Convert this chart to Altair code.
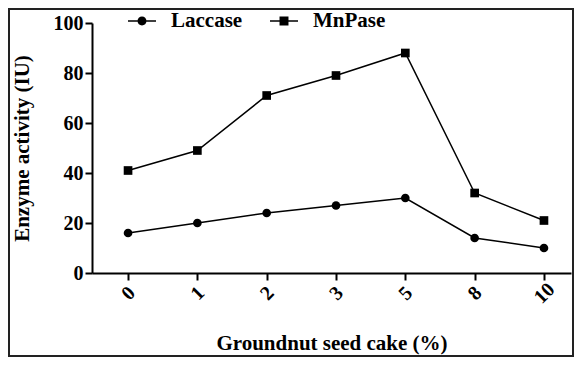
import altair as alt
import pandas as pd

categories = ["0", "1", "2", "3", "5", "8", "10"]
laccase = [16, 20, 24, 27, 30, 14, 10]
mnpase = [41, 49, 71, 79, 88, 32, 21]
series_names = ["Laccase", "MnPase"]

rows = []
for i, c in enumerate(categories):
    rows.append({"idx": i, "cat": c, "series": "Laccase", "value": laccase[i]})
    rows.append({"idx": i, "cat": c, "series": "MnPase", "value": mnpase[i]})
df = pd.DataFrame(rows)

FONT = "Liberation Serif"
W, H = 479, 250
PAD = {"left": 84, "top": 15, "right": 3, "bottom": 84}

label_expr = "[" + ",".join("'%s'" % c for c in categories) + "][round(datum.value)]"

x_enc = alt.X(
    "idx:Q",
    scale=alt.Scale(domain=[-0.52, 6.39], nice=False, zero=False),
    axis=alt.Axis(
        title="Groundnut seed cake (%)",
        values=list(range(len(categories))),
        labelExpr=label_expr,
        labelAngle=-45,
        labelAlign="center",
        labelBaseline="middle",
        labelPadding=13,
        titlePadding=25,
    ),
)
y_enc = alt.Y(
    "value:Q",
    scale=alt.Scale(domain=[0, 100], nice=False),
    axis=alt.Axis(title="Enzyme activity (IU)", values=[0, 20, 40, 60, 80, 100],
                  titlePadding=21, labelPadding=2),
)

bar = "M-1,-0.055H1V0.055H-1Z"
circle_path = bar + "M0.32,0A0.32,0.32 0 1,1 -0.32,0A0.32,0.32 0 1,1 0.32,0Z"
square_path = bar + "M-0.32,-0.32H0.32V0.32H-0.32Z"

lines = alt.Chart(df).mark_line(color="black", strokeWidth=1.5).encode(
    x=x_enc, y=y_enc, detail="series:N"
)
points = alt.Chart(df).mark_point(filled=True, color="black", size=75, opacity=1).encode(
    x="idx:Q",
    y="value:Q",
    shape=alt.Shape(
        "series:N",
        scale=alt.Scale(domain=series_names, range=["circle", "square"]),
        legend=None,
    ),
)

legend_layer = alt.Chart(df).transform_filter("false").mark_point(
    filled=True, fill="black", opacity=1
).encode(
    x="idx:Q",
    y="value:Q",
    shape=alt.Shape(
        "series:N",
        scale=alt.Scale(domain=series_names, range=[circle_path, square_path]),
        legend=alt.Legend(
            title=None,
            orient="none",
            direction="horizontal",
            legendX=35,
            legendY=-17,
            symbolSize=784,
            labelOffset=14,
            columnPadding=24,
            labelFont=FONT,
            labelFontSize=21,
            labelFontWeight="bold",
            labelColor="black",
            symbolFillColor="black",
            symbolOpacity=1,
        ),
    ),
)

frame = alt.Chart(pd.DataFrame({"a": [0]})).mark_rect(
    fill="transparent", stroke="#222222", strokeWidth=2
).encode(
    x=alt.value(-PAD["left"] + 1),
    x2=alt.value(W + PAD["right"] - 1),
    y=alt.value(-PAD["top"] + 1),
    y2=alt.value(H + PAD["bottom"] - 1),
)

chart = (
    alt.layer(lines, points, legend_layer, frame)
    .resolve_scale(shape="independent")
    .properties(width=W, height=H, autosize=alt.AutoSizeParams(type="none"), padding=PAD)
    .configure_view(stroke=None)
    .configure_axis(
        grid=False,
        domainColor="black",
        domainWidth=2,
        tickColor="black",
        tickWidth=2,
        tickSize=7,
        labelFont=FONT,
        labelFontSize=20,
        labelFontWeight="bold",
        labelColor="black",
        titleFont=FONT,
        titleFontSize=21,
        titleFontWeight="bold",
        titleColor="black",
    )
)

chart.save("out.html", embed_options={"renderer": "svg", "actions": False})
